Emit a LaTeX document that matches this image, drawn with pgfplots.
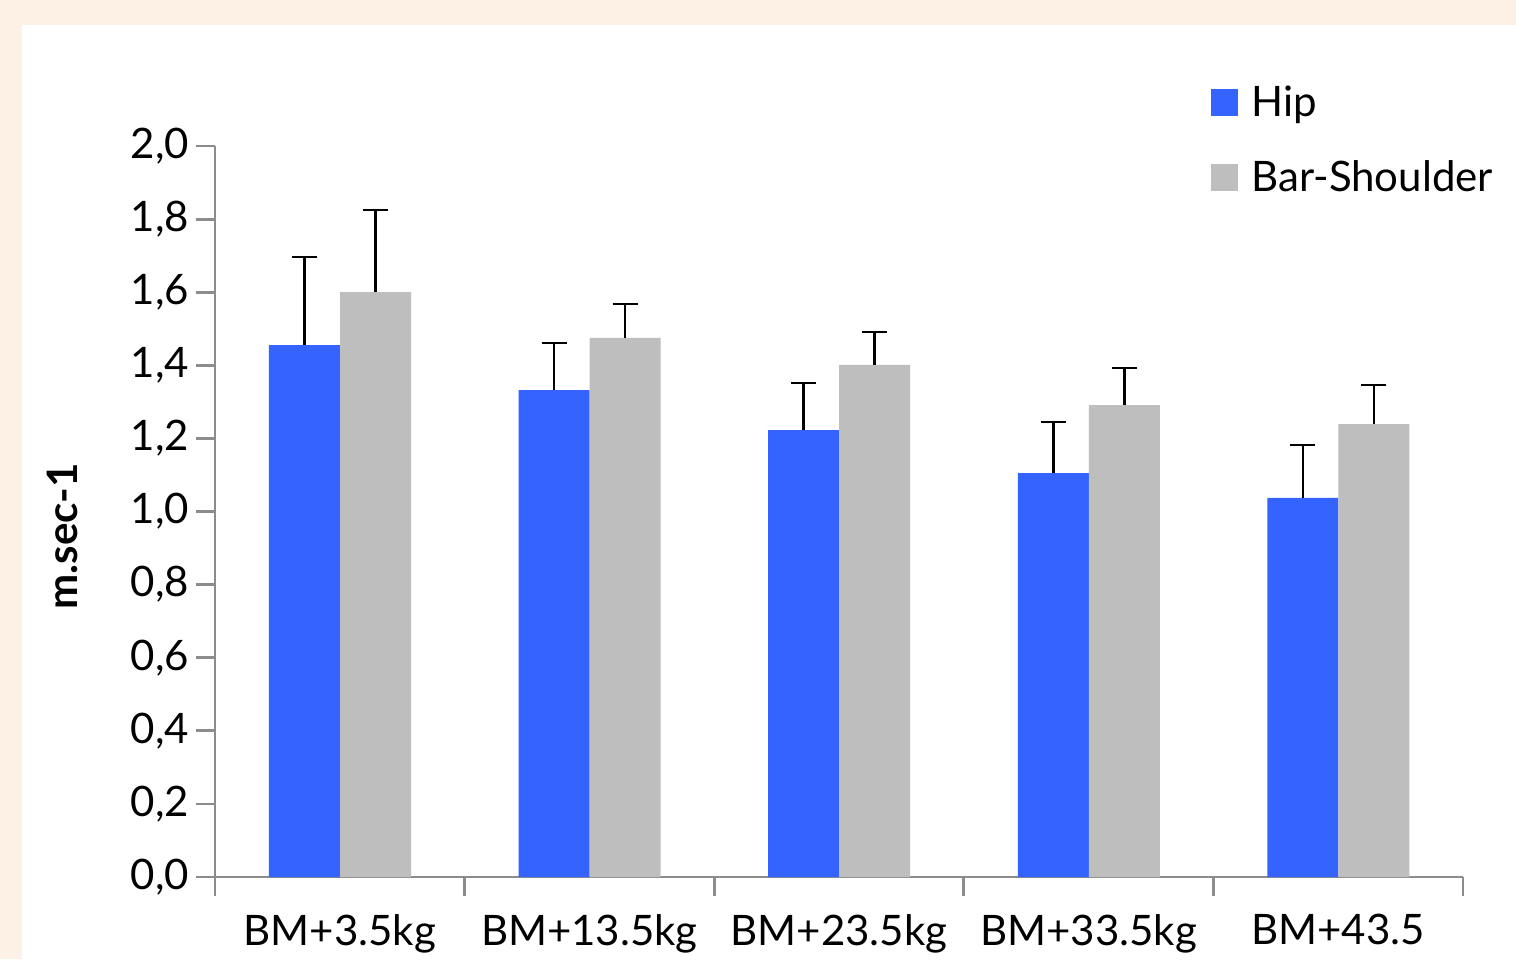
\documentclass[border=0pt]{standalone}
\usepackage{pgfplots}
\pgfplotsset{compat=1.18}
\usepackage{fontspec}
\setmainfont{Lato}
\definecolor{hipblue}{RGB}{52,99,255}
\definecolor{shgray}{RGB}{190,190,190}
\definecolor{axgray}{RGB}{140,140,140}
\definecolor{beige}{RGB}{253,240,229}
\begin{document}
\begin{tikzpicture}
\useasboundingbox (0,0) rectangle (758pt,-479.5pt);
\fill[beige] (0,0) rectangle (758pt,-479.5pt);
\fill[white] (11pt,-12.5pt) rectangle (758pt,-479.5pt);
\begin{axis}[
  at={(107.5pt,-438.5pt)}, anchor=south west,
  scale only axis, width=624pt, height=365.5pt,
  xmin=0, xmax=5, ymin=0, ymax=2,
  axis lines=left,
  axis line style={-, axgray, line width=1.4pt},
  every tick/.style={axgray, line width=1.4pt},
  tick align=outside,
  major tick length=9.5pt,
  xtick={0,1,2,3,4,5}, xticklabels={},
  extra x ticks={0.5,1.5,2.5,3.5,4.5},
  extra x tick labels={BM+3.5kg,BM+13.5kg,BM+23.5kg,BM+33.5kg,BM+43.5},
  extra x tick style={major tick length=0pt, xticklabel style={yshift=-15pt}},
  ytick={0,0.2,...,2.0},
  /pgf/number format/.cd, use comma, fixed, fixed zerofill, precision=1, assume math mode=true,
  /pgfplots/.cd,
  tick label style={font=\fontsize{21}{24}\selectfont, black},
  ylabel={m.sec-1},
  ylabel style={font=\fontsize{21}{24}\selectfont\bfseries, at={(axis description cs:-0.1226,0.466)}, anchor=center, rotate=0},
  legend style={draw=none, fill=none, at={(rel axis cs:0.798,1.088)}, anchor=north west,
    font=\fontsize{21}{24}\selectfont, row sep=16.5pt, column sep=4.5pt, inner sep=0pt},
  legend cell align=left,
  legend image code/.code={\fill[#1,draw=none] (0pt,-6.75pt) rectangle (13.5pt,6.75pt);},
  error bars/error bar style={black, line width=1.3pt},
  error bars/error mark options={rotate=90, mark size=6.25pt, black, line width=1.3pt},
]
\addplot[ybar, bar width=0.2845, fill=hipblue, draw=none,
  error bars/.cd, y dir=plus, y explicit]
  coordinates {(0.3586,1.455) +- (0,0.241) (1.3586,1.332) +- (0,0.129) (2.3586,1.223) +- (0,0.129) (3.3586,1.105) +- (0,0.140) (4.3586,1.037) +- (0,0.145)};
\addlegendentry{Hip}
\addplot[ybar, bar width=0.2845, fill=shgray, draw=none,
  error bars/.cd, y dir=plus, y explicit]
  coordinates {(0.6431,1.600) +- (0,0.225) (1.6431,1.475) +- (0,0.093) (2.6431,1.401) +- (0,0.090) (3.6431,1.291) +- (0,0.102) (4.6431,1.239) +- (0,0.107)};
\addlegendentry{Bar-Shoulder}
\end{axis}
\end{tikzpicture}
\end{document}
